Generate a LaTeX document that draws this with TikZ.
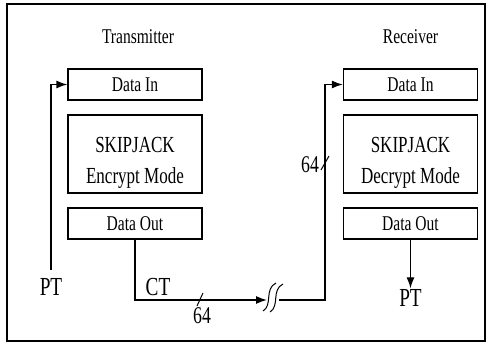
\documentclass[tikz,border=0pt]{standalone}
\usepackage{fontspec}
\setmainfont{Liberation Serif}[FakeStretch=0.74]
\usetikzlibrary{positioning, arrows.meta}

\begin{document}
\begin{tikzpicture}
	[x=1pt, y=-1pt, on grid, line width=1.3pt, >={Latex[length=11pt,width=8pt]},
	 block/.style={draw, rectangle, minimum width=134pt, minimum height=31pt, inner sep=0pt, font=\fontsize{21}{22}\selectfont},
	 core/.style={block, minimum height=78pt, align=center, text height=64pt, font=\fontsize{23}{31}\selectfont},
	 title/.style={font=\fontsize{21}{22}\selectfont},
	 sig/.style={font=\fontsize{26}{27}\selectfont, inner sep=0pt},
	 bits/.style={font=\fontsize{24}{25}\selectfont, inner sep=0pt}]
   \useasboundingbox (0,0) rectangle (488,343);
   \draw[line width=2.2pt] (7,4) rectangle (485,341);
   % transmitter
   \node[block] (txin) at (135,84.5) {Data In};
   \node[core] (txcore) [below=69.5pt of txin] {SKIPJACK\\Encrypt Mode};
   \node[block] (txout) [below=69.5pt of txcore] {Data Out};
   \node[title] (txname) [above=47.5pt of txin, xshift=3pt] {Transmitter};
   % receiver
   \node[block] (rxin) [right=275.5pt of txin] {Data In};
   \node[core] (rxcore) [below=69.5pt of rxin] {SKIPJACK\\Decrypt Mode};
   \node[block] (rxout) [below=69.5pt of rxcore] {Data Out};
   \node[title] (rxname) [above=47.5pt of rxin] {Receiver};
   % signals
   \node[sig] (ptin) at (51,287) {PT};
   \node[sig] (ct) at (158,287) {CT};
   \node[sig] (ptout) [below=74pt of rxout] {PT};
   \node[bits] (w1) at (202,316) {64};
   \node[bits] (w2) at (310,165) {64};
   \coordinate (brk1) at (267,300);
   \coordinate (brk2) at (279,300);
   \coordinate (turn) at (325,300);
   \draw[->, shorten <=8pt] (ptin) |- (txin);
   \draw[->] (txout) |- (brk1);
   \draw[->] (brk2) -- (turn) |- (rxin);
   \draw[->] (rxout) -- (ptout);
   % break and width marks
   \draw[line width=1pt] (263,311) .. controls (273,305) and (264,289) .. (276,283);
   \draw[line width=1pt] (270,312) .. controls (280,306) and (271,290) .. (283,284);
   \draw[line width=1pt] (197,306) -- (203,293);
   \draw[line width=1pt] (321,170) -- (329,156);
\end{tikzpicture}
\end{document}
